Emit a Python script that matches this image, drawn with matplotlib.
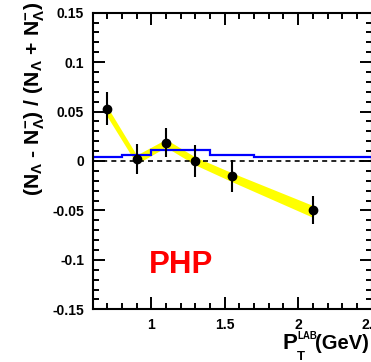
import matplotlib
matplotlib.use("Agg")
import matplotlib.pyplot as plt
from matplotlib.ticker import MultipleLocator, FuncFormatter
import numpy as np

plt.rcParams['font.family'] = ['Liberation Sans', 'DejaVu Sans']
plt.rcParams['font.weight'] = 'bold'
plt.rcParams['mathtext.fontset'] = 'custom'
plt.rcParams['mathtext.rm'] = 'Liberation Sans:bold'
plt.rcParams['mathtext.bf'] = 'Liberation Sans:bold'
plt.rcParams['mathtext.it'] = 'Liberation Sans:bold'
plt.rcParams['mathtext.default'] = 'bf'
plt.rcParams['axes.unicode_minus'] = False

# measured asymmetry vs pT
pt = [0.7, 0.9, 1.1, 1.3, 1.55, 2.1]
asym = [0.053, 0.002, 0.0186, 0.0003, -0.0152, -0.0497]
asym_err = [0.017, 0.015, 0.015, 0.016, 0.016, 0.014]

# systematic band around the points
band_lo = [0.045, -0.003, 0.014, -0.004, -0.021, -0.057]
band_hi = [0.055, 0.006, 0.022, 0.004, -0.012, -0.045]

# MC prediction (histogram)
mc_edges = [0.6, 0.8, 1.0, 1.4, 1.7, 2.5]
mc_vals = [0.0043, 0.0058, 0.0110, 0.0058, 0.0043]

fig = plt.figure(figsize=(3.71, 3.62), dpi=100)
ax = fig.add_axes([92.5/371, (362-309.3)/362, (371.6-92.5)/371, (309.3-12.7)/362])

ax.fill_between(pt, band_lo, band_hi, color='#ffff00', lw=0, zorder=1)
ax.stairs(mc_vals, mc_edges, color='#0000ff', lw=1.6, zorder=2)
ax.axhline(0, color='black', lw=1.2, ls=(0, (3, 2.5)), zorder=2)
ax.errorbar(pt, asym, yerr=asym_err, fmt='o', color='black', ms=6,
            elinewidth=1.5, capsize=0, zorder=3)

ax.set_xlim(0.6, 2.5)
ax.set_ylim(-0.15, 0.15)
ax.xaxis.set_major_locator(MultipleLocator(0.5))
ax.xaxis.set_minor_locator(MultipleLocator(0.1))
ax.yaxis.set_major_locator(MultipleLocator(0.05))
ax.yaxis.set_minor_locator(MultipleLocator(0.01))
fmt = FuncFormatter(lambda v, p: f'{round(v, 3):g}')
ax.xaxis.set_major_formatter(fmt)
ax.yaxis.set_major_formatter(fmt)

for s in ax.spines.values():
    s.set_linewidth(1.5)
ax.tick_params(which='both', direction='in', top=True, right=True, width=1.4,
               labelsize=10)
ax.tick_params(which='major', length=8.3, pad=6)
ax.tick_params(which='minor', length=4.3)

ax.text(1.2, -0.105, 'PHP', color='#ff0000', fontsize=22.5, fontweight='bold',
        ha='center', va='center')

# x title built from pieces: P, subscript T, superscript LAB, (GeV)
W, H = 371.0, 362.0
fig.text(282/W, 1 - 349/H, 'P', fontsize=16, ha='left', va='baseline')
fig.text(297/W, 1 - 339/H, 'LAB', fontsize=7.0, ha='left', va='baseline')
fig.text(297/W, 1 - 360/H, 'T', fontsize=9.5, ha='left', va='baseline')
fig.text(369/W, 1 - 349/H, '(GeV)', fontsize=14.5, ha='right', va='baseline')

fig.text(35/W, 1 - 2/H,
         r'(N$_{\Lambda}$ - N$_{\Lambda}^{-}$) / (N$_{\Lambda}$ + N$_{\Lambda}^{-}$)',
         fontsize=15.3, rotation=90, ha='center', va='top')

fig.savefig('out.png', dpi=100)
